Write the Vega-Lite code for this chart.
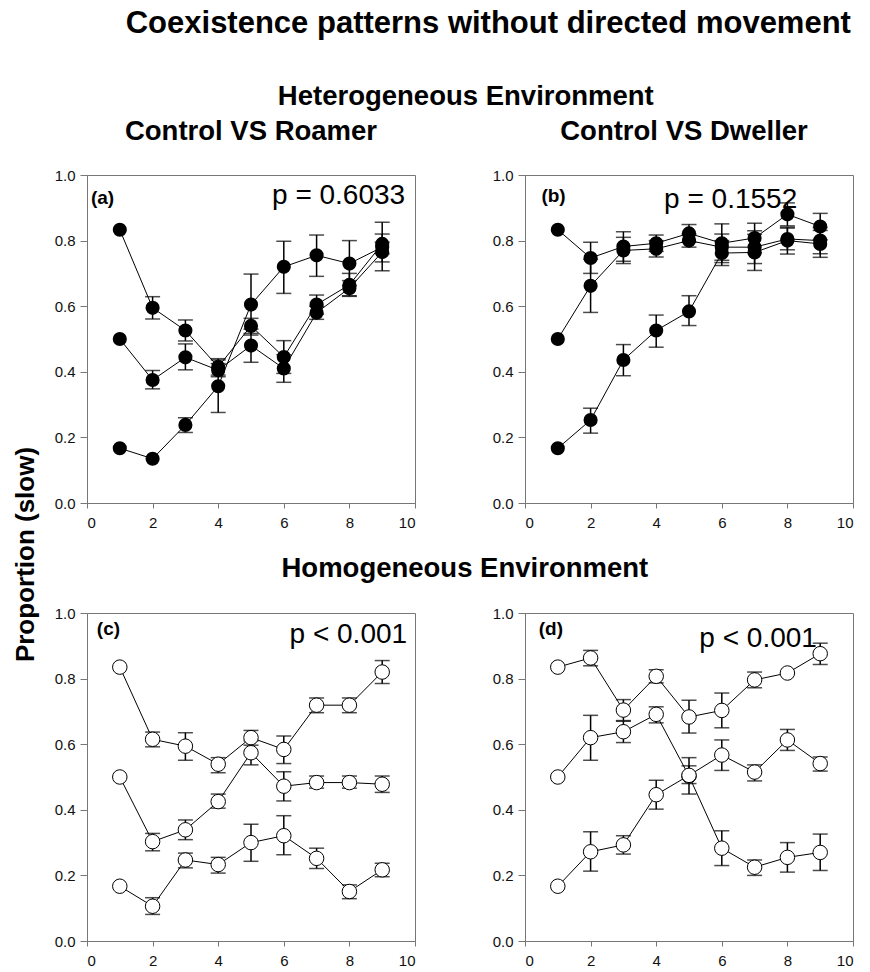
{
  "$schema": "https://vega.github.io/schema/vega-lite/v6.json",
  "padding": {"left": 12, "top": 7, "right": 2, "bottom": 2},
  "background": "white",
  "config": {
    "font": "Liberation Sans",
    "view": {"stroke": "#777", "strokeWidth": 1},
    "axis": {"grid": false, "domainColor": "#777", "tickColor": "#777", "labelFont": "Liberation Sans", "labelFontSize": 15, "labelColor": "#111"},
    "axisX": {"tickSize": 5, "labelPadding": 7},
    "axisY": {"tickSize": 7, "labelPadding": 5},
    "title": {"font": "Liberation Sans", "fontWeight": "bold", "color": "black", "anchor": "middle"}
  },
  "datasets": {
    "notes": [
      {"panel": "a", "kind": "tag", "label": "(a)", "x": 0.12, "y": 0.912},
      {"panel": "a", "kind": "stat", "label": "p = 0.6033", "x": 9.7, "y": 0.912},
      {"panel": "b", "kind": "tag", "label": "(b)", "x": 0.5, "y": 0.918},
      {"panel": "b", "kind": "stat", "label": "p = 0.1552", "x": 8.3, "y": 0.9},
      {"panel": "c", "kind": "tag", "label": "(c)", "x": 0.3, "y": 0.933},
      {"panel": "c", "kind": "stat", "label": "p < 0.001", "x": 9.76, "y": 0.909},
      {"panel": "d", "kind": "tag", "label": "(d)", "x": 0.42, "y": 0.933},
      {"panel": "d", "kind": "stat", "label": "p < 0.001", "x": 8.9, "y": 0.896}
    ],
    "pts": [
      {"panel": "a", "series": 1, "x": 1, "y": 0.833, "lo": null, "hi": null},
      {"panel": "a", "series": 1, "x": 2, "y": 0.595, "lo": 0.561, "hi": 0.629},
      {"panel": "a", "series": 1, "x": 3, "y": 0.526, "lo": 0.494, "hi": 0.558},
      {"panel": "a", "series": 1, "x": 4, "y": 0.415, "lo": 0.39, "hi": 0.44},
      {"panel": "a", "series": 1, "x": 5, "y": 0.54, "lo": 0.517, "hi": 0.563},
      {"panel": "a", "series": 1, "x": 6, "y": 0.445, "lo": 0.395, "hi": 0.495},
      {"panel": "a", "series": 1, "x": 7, "y": 0.605, "lo": 0.576, "hi": 0.634},
      {"panel": "a", "series": 1, "x": 8, "y": 0.665, "lo": 0.63, "hi": 0.7},
      {"panel": "a", "series": 1, "x": 9, "y": 0.79, "lo": 0.76, "hi": 0.82},
      {"panel": "a", "series": 2, "x": 1, "y": 0.5, "lo": null, "hi": null},
      {"panel": "a", "series": 2, "x": 2, "y": 0.375, "lo": 0.348, "hi": 0.404},
      {"panel": "a", "series": 2, "x": 3, "y": 0.444, "lo": 0.406, "hi": 0.485},
      {"panel": "a", "series": 2, "x": 4, "y": 0.405, "lo": 0.385, "hi": 0.425},
      {"panel": "a", "series": 2, "x": 5, "y": 0.48, "lo": 0.429, "hi": 0.53},
      {"panel": "a", "series": 2, "x": 6, "y": 0.41, "lo": 0.368, "hi": 0.452},
      {"panel": "a", "series": 2, "x": 7, "y": 0.58, "lo": 0.56, "hi": 0.6},
      {"panel": "a", "series": 2, "x": 8, "y": 0.655, "lo": 0.632, "hi": 0.678},
      {"panel": "a", "series": 2, "x": 9, "y": 0.765, "lo": 0.735, "hi": 0.795},
      {"panel": "a", "series": 3, "x": 1, "y": 0.167, "lo": null, "hi": null},
      {"panel": "a", "series": 3, "x": 2, "y": 0.135, "lo": null, "hi": null},
      {"panel": "a", "series": 3, "x": 3, "y": 0.238, "lo": 0.215, "hi": 0.26},
      {"panel": "a", "series": 3, "x": 4, "y": 0.356, "lo": 0.276, "hi": 0.436},
      {"panel": "a", "series": 3, "x": 5, "y": 0.605, "lo": 0.512, "hi": 0.698},
      {"panel": "a", "series": 3, "x": 6, "y": 0.72, "lo": 0.639, "hi": 0.798},
      {"panel": "a", "series": 3, "x": 7, "y": 0.755, "lo": 0.691, "hi": 0.817},
      {"panel": "a", "series": 3, "x": 8, "y": 0.73, "lo": 0.663, "hi": 0.8},
      {"panel": "a", "series": 3, "x": 9, "y": 0.78, "lo": 0.708, "hi": 0.856},
      {"panel": "b", "series": 1, "x": 1, "y": 0.833, "lo": null, "hi": null},
      {"panel": "b", "series": 1, "x": 2, "y": 0.747, "lo": 0.7, "hi": 0.795},
      {"panel": "b", "series": 1, "x": 3, "y": 0.782, "lo": 0.737, "hi": 0.827},
      {"panel": "b", "series": 1, "x": 4, "y": 0.792, "lo": 0.767, "hi": 0.817},
      {"panel": "b", "series": 1, "x": 5, "y": 0.822, "lo": 0.795, "hi": 0.849},
      {"panel": "b", "series": 1, "x": 6, "y": 0.792, "lo": 0.733, "hi": 0.851},
      {"panel": "b", "series": 1, "x": 7, "y": 0.808, "lo": 0.763, "hi": 0.853},
      {"panel": "b", "series": 1, "x": 8, "y": 0.88, "lo": 0.845, "hi": 0.915},
      {"panel": "b", "series": 1, "x": 9, "y": 0.843, "lo": 0.803, "hi": 0.883},
      {"panel": "b", "series": 2, "x": 1, "y": 0.5, "lo": null, "hi": null},
      {"panel": "b", "series": 2, "x": 2, "y": 0.662, "lo": 0.581, "hi": 0.743},
      {"panel": "b", "series": 2, "x": 3, "y": 0.77, "lo": 0.73, "hi": 0.81},
      {"panel": "b", "series": 2, "x": 4, "y": 0.775, "lo": 0.75, "hi": 0.8},
      {"panel": "b", "series": 2, "x": 5, "y": 0.8, "lo": 0.78, "hi": 0.82},
      {"panel": "b", "series": 2, "x": 6, "y": 0.78, "lo": 0.74, "hi": 0.82},
      {"panel": "b", "series": 2, "x": 7, "y": 0.78, "lo": 0.73, "hi": 0.83},
      {"panel": "b", "series": 2, "x": 8, "y": 0.805, "lo": 0.772, "hi": 0.838},
      {"panel": "b", "series": 2, "x": 9, "y": 0.8, "lo": 0.76, "hi": 0.84},
      {"panel": "b", "series": 3, "x": 1, "y": 0.167, "lo": null, "hi": null},
      {"panel": "b", "series": 3, "x": 2, "y": 0.253, "lo": 0.213, "hi": 0.289},
      {"panel": "b", "series": 3, "x": 3, "y": 0.436, "lo": 0.388, "hi": 0.483},
      {"panel": "b", "series": 3, "x": 4, "y": 0.526, "lo": 0.475, "hi": 0.573},
      {"panel": "b", "series": 3, "x": 5, "y": 0.584, "lo": 0.541, "hi": 0.632},
      {"panel": "b", "series": 3, "x": 6, "y": 0.762, "lo": 0.724, "hi": 0.8},
      {"panel": "b", "series": 3, "x": 7, "y": 0.764, "lo": 0.709, "hi": 0.819},
      {"panel": "b", "series": 3, "x": 8, "y": 0.8, "lo": 0.759, "hi": 0.841},
      {"panel": "b", "series": 3, "x": 9, "y": 0.79, "lo": 0.749, "hi": 0.831},
      {"panel": "c", "series": 1, "x": 1, "y": 0.835, "lo": null, "hi": null},
      {"panel": "c", "series": 1, "x": 2, "y": 0.615, "lo": 0.592, "hi": 0.637},
      {"panel": "c", "series": 1, "x": 3, "y": 0.594, "lo": 0.551, "hi": 0.635},
      {"panel": "c", "series": 1, "x": 4, "y": 0.539, "lo": 0.513, "hi": 0.559},
      {"panel": "c", "series": 1, "x": 5, "y": 0.62, "lo": 0.597, "hi": 0.642},
      {"panel": "c", "series": 1, "x": 6, "y": 0.584, "lo": 0.541, "hi": 0.625},
      {"panel": "c", "series": 1, "x": 7, "y": 0.719, "lo": 0.696, "hi": 0.741},
      {"panel": "c", "series": 1, "x": 8, "y": 0.719, "lo": 0.696, "hi": 0.741},
      {"panel": "c", "series": 1, "x": 9, "y": 0.82, "lo": 0.785, "hi": 0.855},
      {"panel": "c", "series": 2, "x": 1, "y": 0.5, "lo": null, "hi": null},
      {"panel": "c", "series": 2, "x": 2, "y": 0.303, "lo": 0.275, "hi": 0.328},
      {"panel": "c", "series": 2, "x": 3, "y": 0.339, "lo": 0.309, "hi": 0.369},
      {"panel": "c", "series": 2, "x": 4, "y": 0.425, "lo": 0.405, "hi": 0.448},
      {"panel": "c", "series": 2, "x": 5, "y": 0.574, "lo": 0.537, "hi": 0.61},
      {"panel": "c", "series": 2, "x": 6, "y": 0.472, "lo": 0.427, "hi": 0.516},
      {"panel": "c", "series": 2, "x": 7, "y": 0.483, "lo": 0.466, "hi": 0.503},
      {"panel": "c", "series": 2, "x": 8, "y": 0.483, "lo": 0.466, "hi": 0.503},
      {"panel": "c", "series": 2, "x": 9, "y": 0.478, "lo": 0.453, "hi": 0.503},
      {"panel": "c", "series": 3, "x": 1, "y": 0.167, "lo": null, "hi": null},
      {"panel": "c", "series": 3, "x": 2, "y": 0.106, "lo": 0.081, "hi": 0.132},
      {"panel": "c", "series": 3, "x": 3, "y": 0.247, "lo": 0.223, "hi": 0.268},
      {"panel": "c", "series": 3, "x": 4, "y": 0.233, "lo": 0.207, "hi": 0.255},
      {"panel": "c", "series": 3, "x": 5, "y": 0.3, "lo": 0.243, "hi": 0.356},
      {"panel": "c", "series": 3, "x": 6, "y": 0.321, "lo": 0.263, "hi": 0.382},
      {"panel": "c", "series": 3, "x": 7, "y": 0.252, "lo": 0.221, "hi": 0.283},
      {"panel": "c", "series": 3, "x": 8, "y": 0.151, "lo": 0.129, "hi": 0.171},
      {"panel": "c", "series": 3, "x": 9, "y": 0.217, "lo": 0.196, "hi": 0.237},
      {"panel": "d", "series": 1, "x": 1, "y": 0.835, "lo": null, "hi": null},
      {"panel": "d", "series": 1, "x": 2, "y": 0.863, "lo": 0.839, "hi": 0.886},
      {"panel": "d", "series": 1, "x": 3, "y": 0.704, "lo": 0.672, "hi": 0.736},
      {"panel": "d", "series": 1, "x": 4, "y": 0.807, "lo": 0.787, "hi": 0.827},
      {"panel": "d", "series": 1, "x": 5, "y": 0.683, "lo": 0.634, "hi": 0.734},
      {"panel": "d", "series": 1, "x": 6, "y": 0.703, "lo": 0.65, "hi": 0.756},
      {"panel": "d", "series": 1, "x": 7, "y": 0.796, "lo": 0.772, "hi": 0.82},
      {"panel": "d", "series": 1, "x": 8, "y": 0.817, "lo": null, "hi": null},
      {"panel": "d", "series": 1, "x": 9, "y": 0.876, "lo": 0.843, "hi": 0.908},
      {"panel": "d", "series": 2, "x": 1, "y": 0.5, "lo": null, "hi": null},
      {"panel": "d", "series": 2, "x": 2, "y": 0.62, "lo": 0.551, "hi": 0.688},
      {"panel": "d", "series": 2, "x": 3, "y": 0.638, "lo": 0.605, "hi": 0.67},
      {"panel": "d", "series": 2, "x": 4, "y": 0.691, "lo": 0.665, "hi": 0.714},
      {"panel": "d", "series": 2, "x": 5, "y": 0.503, "lo": 0.448, "hi": 0.559},
      {"panel": "d", "series": 2, "x": 6, "y": 0.283, "lo": 0.23, "hi": 0.336},
      {"panel": "d", "series": 2, "x": 7, "y": 0.225, "lo": 0.2, "hi": 0.247},
      {"panel": "d", "series": 2, "x": 8, "y": 0.255, "lo": 0.21, "hi": 0.3},
      {"panel": "d", "series": 2, "x": 9, "y": 0.27, "lo": 0.215, "hi": 0.326},
      {"panel": "d", "series": 3, "x": 1, "y": 0.167, "lo": null, "hi": null},
      {"panel": "d", "series": 3, "x": 2, "y": 0.272, "lo": 0.213, "hi": 0.333},
      {"panel": "d", "series": 3, "x": 3, "y": 0.293, "lo": 0.265, "hi": 0.321},
      {"panel": "d", "series": 3, "x": 4, "y": 0.446, "lo": 0.402, "hi": 0.49},
      {"panel": "d", "series": 3, "x": 5, "y": 0.505, "lo": 0.48, "hi": 0.534},
      {"panel": "d", "series": 3, "x": 6, "y": 0.567, "lo": 0.52, "hi": 0.613},
      {"panel": "d", "series": 3, "x": 7, "y": 0.515, "lo": 0.488, "hi": 0.537},
      {"panel": "d", "series": 3, "x": 8, "y": 0.613, "lo": 0.581, "hi": 0.645},
      {"panel": "d", "series": 3, "x": 9, "y": 0.541, "lo": 0.518, "hi": 0.561}
    ]
  },
  "title": {"text": "Coexistence patterns without directed movement", "fontSize": 31, "offset": 43, "dx": 55},
  "hconcat": [
    {
      "title": {"text": "Proportion (slow)", "orient": "left", "fontSize": 26, "offset": 15, "dx": -29},
      "spacing": 24,
      "vconcat": [
        {
          "title": {"text": "Heterogeneous Environment", "fontSize": 27.5, "offset": 7, "dx": 12},
          "spacing": 75,
          "hconcat": [
            {
              "width": 328, "height": 328,
              "title": {"text": "Control VS Roamer", "fontSize": 27.5, "offset": 23},
              "encoding": {"x": {"field": "x", "type": "quantitative", "title": null, "scale": {"domain": [0, 10], "nice": false}, "axis": {"values": [0, 2, 4, 6, 8, 10]}}},
              "layer": [
                {"data": {"name": "pts"}, "transform": [{"filter": "datum.panel === 'a'"}], "mark": {"type": "line", "color": "black", "strokeWidth": 1}, "encoding": {"y": {"field": "y", "type": "quantitative", "title": null, "scale": {"domain": [0, 1], "nice": false}, "axis": {"values": [0, 0.2, 0.4, 0.6, 0.8, 1.0], "format": ".1f"}}, "detail": {"field": "series"}}},
                {"data": {"name": "pts"}, "transform": [{"filter": "datum.panel === 'a'"}], "mark": {"type": "rule", "color": "black", "strokeWidth": 1.5}, "encoding": {"y": {"field": "lo", "type": "quantitative", "title": null}, "y2": {"field": "hi"}}},
                {"data": {"name": "pts"}, "transform": [{"filter": "datum.panel === 'a'"}], "mark": {"type": "tick", "orient": "horizontal", "color": "black", "size": 15, "thickness": 1.5}, "encoding": {"y": {"field": "lo", "type": "quantitative", "title": null}}},
                {"data": {"name": "pts"}, "transform": [{"filter": "datum.panel === 'a'"}], "mark": {"type": "tick", "orient": "horizontal", "color": "black", "size": 15, "thickness": 1.5}, "encoding": {"y": {"field": "hi", "type": "quantitative", "title": null}}},
                {"data": {"name": "pts"}, "transform": [{"filter": "datum.panel === 'a'"}], "mark": {"type": "point", "shape": "circle", "filled": true, "color": "black", "opacity": 1, "size": 200}, "encoding": {"y": {"field": "y", "type": "quantitative", "title": null}}},
                {"data": {"name": "notes"}, "transform": [{"filter": "datum.panel === 'a' && datum.kind === 'tag'"}], "mark": {"type": "text", "fontSize": 19, "fontWeight": "bold", "align": "left", "baseline": "alphabetic", "color": "black"}, "encoding": {"text": {"field": "label"}, "y": {"field": "y", "type": "quantitative", "title": null}}},
                {"data": {"name": "notes"}, "transform": [{"filter": "datum.panel === 'a' && datum.kind === 'stat'"}], "mark": {"type": "text", "fontSize": 28, "align": "right", "baseline": "alphabetic", "color": "black"}, "encoding": {"text": {"field": "label"}, "y": {"field": "y", "type": "quantitative", "title": null}}}
              ]
            },
            {
              "width": 328, "height": 328,
              "title": {"text": "Control VS Dweller", "fontSize": 27.5, "offset": 23, "dx": -5},
              "encoding": {"x": {"field": "x", "type": "quantitative", "title": null, "scale": {"domain": [0, 10], "nice": false}, "axis": {"values": [0, 2, 4, 6, 8, 10]}}},
              "layer": [
                {"data": {"name": "pts"}, "transform": [{"filter": "datum.panel === 'b'"}], "mark": {"type": "line", "color": "black", "strokeWidth": 1}, "encoding": {"y": {"field": "y", "type": "quantitative", "title": null, "scale": {"domain": [0, 1], "nice": false}, "axis": {"values": [0, 0.2, 0.4, 0.6, 0.8, 1.0], "format": ".1f"}}, "detail": {"field": "series"}}},
                {"data": {"name": "pts"}, "transform": [{"filter": "datum.panel === 'b'"}], "mark": {"type": "rule", "color": "black", "strokeWidth": 1.5}, "encoding": {"y": {"field": "lo", "type": "quantitative", "title": null}, "y2": {"field": "hi"}}},
                {"data": {"name": "pts"}, "transform": [{"filter": "datum.panel === 'b'"}], "mark": {"type": "tick", "orient": "horizontal", "color": "black", "size": 15, "thickness": 1.5}, "encoding": {"y": {"field": "lo", "type": "quantitative", "title": null}}},
                {"data": {"name": "pts"}, "transform": [{"filter": "datum.panel === 'b'"}], "mark": {"type": "tick", "orient": "horizontal", "color": "black", "size": 15, "thickness": 1.5}, "encoding": {"y": {"field": "hi", "type": "quantitative", "title": null}}},
                {"data": {"name": "pts"}, "transform": [{"filter": "datum.panel === 'b'"}], "mark": {"type": "point", "shape": "circle", "filled": true, "color": "black", "opacity": 1, "size": 200}, "encoding": {"y": {"field": "y", "type": "quantitative", "title": null}}},
                {"data": {"name": "notes"}, "transform": [{"filter": "datum.panel === 'b' && datum.kind === 'tag'"}], "mark": {"type": "text", "fontSize": 19, "fontWeight": "bold", "align": "left", "baseline": "alphabetic", "color": "black"}, "encoding": {"text": {"field": "label"}, "y": {"field": "y", "type": "quantitative", "title": null}}},
                {"data": {"name": "notes"}, "transform": [{"filter": "datum.panel === 'b' && datum.kind === 'stat'"}], "mark": {"type": "text", "fontSize": 28, "align": "right", "baseline": "alphabetic", "color": "black"}, "encoding": {"text": {"field": "label"}, "y": {"field": "y", "type": "quantitative", "title": null}}}
              ]
            }
          ]
        },
        {
          "title": {"text": "Homogeneous Environment", "fontSize": 27.5, "offset": 23, "dx": 11},
          "spacing": 75,
          "hconcat": [
            {
              "width": 328, "height": 328,
              "encoding": {"x": {"field": "x", "type": "quantitative", "title": null, "scale": {"domain": [0, 10], "nice": false}, "axis": {"values": [0, 2, 4, 6, 8, 10]}}},
              "layer": [
                {"data": {"name": "pts"}, "transform": [{"filter": "datum.panel === 'c'"}], "mark": {"type": "line", "color": "black", "strokeWidth": 1}, "encoding": {"y": {"field": "y", "type": "quantitative", "title": null, "scale": {"domain": [0, 1], "nice": false}, "axis": {"values": [0, 0.2, 0.4, 0.6, 0.8, 1.0], "format": ".1f"}}, "detail": {"field": "series"}}},
                {"data": {"name": "pts"}, "transform": [{"filter": "datum.panel === 'c'"}], "mark": {"type": "rule", "color": "black", "strokeWidth": 1.5}, "encoding": {"y": {"field": "lo", "type": "quantitative", "title": null}, "y2": {"field": "hi"}}},
                {"data": {"name": "pts"}, "transform": [{"filter": "datum.panel === 'c'"}], "mark": {"type": "tick", "orient": "horizontal", "color": "black", "size": 15, "thickness": 1.5}, "encoding": {"y": {"field": "lo", "type": "quantitative", "title": null}}},
                {"data": {"name": "pts"}, "transform": [{"filter": "datum.panel === 'c'"}], "mark": {"type": "tick", "orient": "horizontal", "color": "black", "size": 15, "thickness": 1.5}, "encoding": {"y": {"field": "hi", "type": "quantitative", "title": null}}},
                {"data": {"name": "pts"}, "transform": [{"filter": "datum.panel === 'c'"}], "mark": {"type": "point", "shape": "circle", "filled": true, "fill": "white", "stroke": "black", "strokeWidth": 1, "opacity": 1, "size": 210}, "encoding": {"y": {"field": "y", "type": "quantitative", "title": null}}},
                {"data": {"name": "notes"}, "transform": [{"filter": "datum.panel === 'c' && datum.kind === 'tag'"}], "mark": {"type": "text", "fontSize": 19, "fontWeight": "bold", "align": "left", "baseline": "alphabetic", "color": "black"}, "encoding": {"text": {"field": "label"}, "y": {"field": "y", "type": "quantitative", "title": null}}},
                {"data": {"name": "notes"}, "transform": [{"filter": "datum.panel === 'c' && datum.kind === 'stat'"}], "mark": {"type": "text", "fontSize": 28, "align": "right", "baseline": "alphabetic", "color": "black"}, "encoding": {"text": {"field": "label"}, "y": {"field": "y", "type": "quantitative", "title": null}}}
              ]
            },
            {
              "width": 328, "height": 328,
              "encoding": {"x": {"field": "x", "type": "quantitative", "title": null, "scale": {"domain": [0, 10], "nice": false}, "axis": {"values": [0, 2, 4, 6, 8, 10]}}},
              "layer": [
                {"data": {"name": "pts"}, "transform": [{"filter": "datum.panel === 'd'"}], "mark": {"type": "line", "color": "black", "strokeWidth": 1}, "encoding": {"y": {"field": "y", "type": "quantitative", "title": null, "scale": {"domain": [0, 1], "nice": false}, "axis": {"values": [0, 0.2, 0.4, 0.6, 0.8, 1.0], "format": ".1f"}}, "detail": {"field": "series"}}},
                {"data": {"name": "pts"}, "transform": [{"filter": "datum.panel === 'd'"}], "mark": {"type": "rule", "color": "black", "strokeWidth": 1.5}, "encoding": {"y": {"field": "lo", "type": "quantitative", "title": null}, "y2": {"field": "hi"}}},
                {"data": {"name": "pts"}, "transform": [{"filter": "datum.panel === 'd'"}], "mark": {"type": "tick", "orient": "horizontal", "color": "black", "size": 15, "thickness": 1.5}, "encoding": {"y": {"field": "lo", "type": "quantitative", "title": null}}},
                {"data": {"name": "pts"}, "transform": [{"filter": "datum.panel === 'd'"}], "mark": {"type": "tick", "orient": "horizontal", "color": "black", "size": 15, "thickness": 1.5}, "encoding": {"y": {"field": "hi", "type": "quantitative", "title": null}}},
                {"data": {"name": "pts"}, "transform": [{"filter": "datum.panel === 'd'"}], "mark": {"type": "point", "shape": "circle", "filled": true, "fill": "white", "stroke": "black", "strokeWidth": 1, "opacity": 1, "size": 210}, "encoding": {"y": {"field": "y", "type": "quantitative", "title": null}}},
                {"data": {"name": "notes"}, "transform": [{"filter": "datum.panel === 'd' && datum.kind === 'tag'"}], "mark": {"type": "text", "fontSize": 19, "fontWeight": "bold", "align": "left", "baseline": "alphabetic", "color": "black"}, "encoding": {"text": {"field": "label"}, "y": {"field": "y", "type": "quantitative", "title": null}}},
                {"data": {"name": "notes"}, "transform": [{"filter": "datum.panel === 'd' && datum.kind === 'stat'"}], "mark": {"type": "text", "fontSize": 28, "align": "right", "baseline": "alphabetic", "color": "black"}, "encoding": {"text": {"field": "label"}, "y": {"field": "y", "type": "quantitative", "title": null}}}
              ]
            }
          ]
        }
      ]
    }
  ]
}
